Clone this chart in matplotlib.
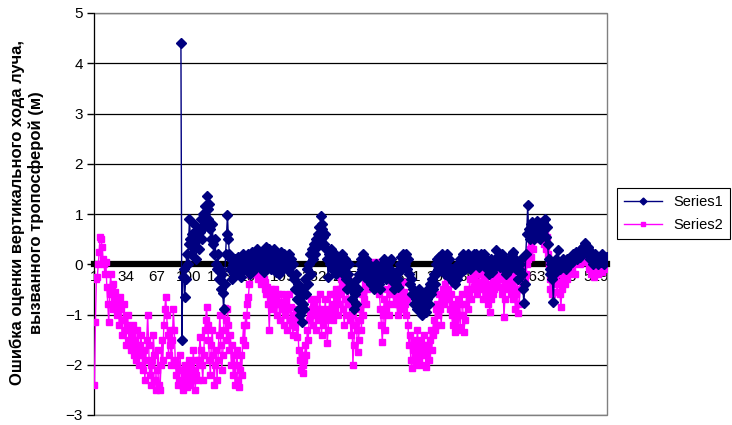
import matplotlib
matplotlib.use('Agg')
from matplotlib import pyplot as plt
from matplotlib.patches import Rectangle

plt.rcParams['font.family'] = ['Liberation Sans', 'DejaVu Sans']

# Series2: one value per measurement, 540 points
series2 = [
    -2.4, -1.15, -0.3, -0.25, 0.0, 0.25, 0.55, 0.5, 0.35, 0.1,
    0.0, -0.2, 0.05, -0.45, -0.8, -1.15, -0.6, -0.2, -0.5, -0.9,
    -0.4, -0.7, -0.55, -0.8, -1.0, -0.7, -1.2, -0.65, -0.9, -1.4,
    -1.1, -0.8, -1.3, -1.6, -1.2, -1.0, -1.5, -1.3, -1.7, -1.4,
    -1.6, -1.2, -1.8, -1.5, -1.9, -1.3, -1.7, -2.0, -1.6, -1.4,
    -1.8, -2.1, -1.7, -2.3, -1.9, -1.5, -1.0, -1.6, -2.2, -2.0,
    -2.4, -1.9, -1.4, -1.8, -2.3, -2.5, -2.1, -1.7, -2.4, -2.5,
    -2.0, -1.5, -1.9, -1.2, -0.9, -0.65, -1.0, -1.4, -1.8, -1.3,
    -1.6, -2.0, -1.5, -0.9, -1.3, -1.9, -2.2, -2.0, -2.4, -2.3,
    -1.8, -2.1, -2.4, -2.5, -2.2, -2.0, -2.3, -2.45, -2.1, -1.9,
    -2.2, -2.4, -2.0, -2.3, -1.7, -2.1, -2.5, -2.2, -1.9, -2.3,
    -1.9, -1.45, -1.7, -2.0, -2.3, -1.8, -1.3, -1.1, -0.85, -1.2,
    -1.5, -1.9, -2.2, -1.6, -1.3, -1.8, -2.4, -2.0, -1.7, -2.3,
    -1.9, -1.4, -1.0, -1.6, -2.1, -1.8, -1.3, -0.88, -1.1, -1.5,
    -0.9, -1.2, -1.7, -1.4, -2.0, -1.6, -2.2, -1.8, -2.4, -2.0,
    -1.7, -2.3, -2.45, -2.1, -1.8, -2.2, -1.5, -1.2, -1.6, -1.0,
    -1.2, -0.8, -0.65, -0.4, -0.2, 0.0, -0.1, 0.05, -0.2, 0.1,
    0.0, -0.1, -0.3, 0.05, -0.15, -0.4, -0.2, 0.0, -0.3, -0.5,
    -0.35, -0.6, -0.45, -0.8, -1.3, -0.7, -0.5, -0.9, -0.6, -0.8,
    -0.5, -0.7, -1.0, -0.6, -0.8, -1.1, -0.75, -0.6, -0.9, -1.2,
    -0.8, -1.0, -0.7, -1.3, -0.9, -0.6, -1.1, -0.85, -1.2, -1.4,
    -1.0, -1.25, -0.9, -1.45, -1.1, -1.7, -1.9, -2.1, -1.8, -2.0,
    -2.17, -1.9, -1.6, -1.8, -1.3, -1.5, -1.1, -1.0, -0.7, -0.9,
    -1.2, -0.8, -1.0, -1.3, -0.7, -0.9, -1.1, -0.6, -1.0, -1.4,
    -0.9, -1.2, -1.0, -0.7, -1.1, -1.57, -1.3, -0.9, -0.6, -1.0,
    -0.8, -1.1, -0.6, -0.9, -0.5, -0.7, -1.0, -0.8, -0.5, -0.3,
    -0.6, -0.4, -0.9, -1.2, -0.7, -1.0, -0.5, -0.3, -0.8, -1.1,
    -1.4, -1.0, -2.0, -1.6, -1.2, -0.8, -1.3, -1.75, -1.5, -1.1,
    -0.9, -1.3, -0.6, -1.0, -0.7, -0.4, -0.8, -0.5, -0.2, -0.4,
    -0.1, 0.0, -0.3, 0.05, -0.2, 0.0, -0.4, -0.1, 0.05, -0.3,
    -0.6, -0.9, -1.2, -1.55, -1.0, -0.7, -1.3, -0.9, -0.5, -0.8,
    -1.0, -0.6, -0.4, -0.25, -0.5, -0.8, -0.6, -0.3, -0.7, -1.0,
    -0.8, -0.5, -0.7, -0.9, -0.6, -0.35, -0.55, -0.8, -1.0, -0.7,
    -1.2, -1.6, -1.4, -1.9, -2.07, -1.7, -1.5, -1.8, -2.0, -1.6,
    -1.3, -1.7, -1.9, -1.5, -1.8, -2.0, -1.6, -1.4, -1.75, -2.05,
    -1.8, -1.6, -1.9, -1.5, -1.3, -1.7, -1.4, -1.1, -1.3, -0.9,
    -1.2, -0.8, -1.0, -0.6, -0.9, -1.2, -0.7, -0.5, -0.8, -0.4,
    -0.6, -0.25, -0.5, -0.7, -0.9, -0.6, -1.0, -1.2, -0.8, -1.35,
    -1.1, -0.9, -1.3, -0.7, -1.0, -1.25, -0.8, -0.6, -1.0, -1.35,
    -1.1, -0.8, -0.5, -0.9, -0.6, -0.3, -0.7, -0.5, -0.2, -0.45,
    -0.3, -0.1, -0.4, -0.6, -0.2, 0.0, -0.35, -0.5, -0.15, -0.7,
    0.05, -0.3, -0.6, -0.4, -0.8, -0.5, -0.95, -0.7, -0.4, -0.6,
    -0.3, -0.5, -0.2, -0.4, -0.1, -0.3, 0.0, -0.2, -0.45, -0.6,
    -0.3, -1.05, -0.7, -0.4, -0.2, -0.5, -0.1, -0.3, -0.6, -0.2,
    -0.4, -0.7, -0.5, -0.9, -0.6, -0.3, -0.97, -0.8, -0.5, -0.2,
    -0.4, -0.1, 0.0, -0.3, -0.2, 0.0, 0.1, 0.2, 0.3, 0.15,
    0.4, 0.55, 0.3, 0.6, 0.75, 0.5, 0.8, 0.65, 0.87, 0.6,
    0.7, 0.5, 0.8, 0.4, 0.65, 0.3, 0.55, 0.2, 0.0, -0.3,
    -0.5, -0.3, -0.6, -0.2, -0.4, -0.1, -0.35, -0.55, -0.2, -0.4,
    -0.6, -0.85, -0.5, -0.3, -0.2, -0.4, -0.1, -0.3, -0.15, 0.0,
    -0.2, -0.1, 0.05, -0.15, 0.1, 0.0, -0.2, 0.15, 0.05, 0.1,
    0.2, 0.0, 0.15, 0.25, 0.1, 0.3, 0.2, 0.05, 0.25, 0.3,
    0.1, -0.1, 0.0, -0.2, 0.05, -0.1, -0.25, 0.0, -0.15, -0.05,
    -0.2, 0.0, -0.1, 0.05, -0.15, -0.05, 0.0, -0.1, 0.05, -0.05,
]

# Series1 has no values for the first 91 points (empty cells)
series1_start = 92
series1 = [
    4.4, -1.5, -0.25, -0.1, -0.65, -0.3, 0.2, 0.0, 0.4,
    0.9, 0.5, 0.2, 0.6, 0.35, 0.8, 0.45, 0.1, 0.55, 0.7,
    0.3, 0.65, 0.9, 0.5, 1.0, 0.75, 1.15, 0.85, 1.35, 1.1,
    0.9, 1.2, 0.7, 0.5, 0.8, 0.4, 0.2, 0.5, 0.0, -0.1,
    0.2, -0.3, -0.1, -0.5, -0.2, -0.58, -0.9, -0.4, 0.2, 0.6,
    0.98, 0.5, 0.2, -0.1, 0.1, -0.3, 0.0, -0.2, 0.1, -0.1,
    0.0, 0.15, -0.15, 0.1, -0.25, 0.05, 0.2, -0.1, 0.0, 0.1,
    -0.1, 0.05, 0.2, 0.0, -0.2, 0.1, 0.25, 0.0, 0.15, -0.1,
    0.1, 0.3, 0.0, 0.2, -0.05, 0.1, 0.25, 0.05, -0.15, 0.1,
    0.2, 0.35, 0.0, 0.15, 0.3, 0.1, -0.1, 0.2, 0.05, 0.3,
    0.1, -0.15, 0.2, 0.0, -0.2, 0.1, 0.25, 0.0, -0.1, 0.15,
    0.2, 0.0, 0.15, -0.1, 0.05, 0.2, -0.05, 0.1, -0.2, 0.0,
    -0.3, -0.5, -0.2, -0.7, -0.4, -0.9, -1.0, -0.6, -1.15, -0.8,
    -0.5, -0.9, -0.3, -0.6, -0.1, -0.4, 0.0, 0.2, -0.2, 0.3,
    0.1, 0.4, 0.2, 0.5, 0.35, 0.6, 0.75, 0.5, 0.97, 0.7,
    0.8, 0.55, 0.4, 0.6, 0.3, 0.1, -0.25, 0.2, 0.0, 0.3,
    -0.1, 0.15, 0.0, 0.2, -0.2, 0.1, 0.0, -0.1, 0.15, -0.05,
    0.0, 0.2, -0.2, -0.1, 0.1, -0.3, -0.5, -0.2, 0.0, -0.35,
    -0.5, -0.7, -0.4, -0.9, -0.6, -0.8, -0.3, -0.5, -0.2, 0.0,
    -0.2, 0.1, -0.1, 0.2, 0.0, -0.25, 0.1, -0.3, -0.1, 0.0,
    -0.2, -0.4, -0.1, -0.3, -0.5, -0.2, 0.0, -0.3, -0.1, -0.4,
    -0.2, -0.5, -0.3, 0.0, -0.2, 0.1, -0.1, -0.3, 0.0, -0.2,
    0.05, -0.1, 0.1, -0.2, -0.35, -0.5, -0.3, -0.4, -0.2, -0.45,
    -0.3, -0.1, 0.0, 0.15, -0.1, 0.2, 0.1, 0.0, 0.2, -0.1,
    0.1, -0.2, -0.4, -0.3, -0.6, -0.5, -0.8, -0.55, -0.7, -0.9,
    -0.6, -0.8, -0.5, -0.9, -0.7, -1.0, -0.75, -0.6, -0.85, -0.95,
    -0.7, -0.5, -0.8, -0.4, -0.6, -0.3, -0.5, -0.2, -0.4, 0.0,
    -0.2, 0.1, -0.1, 0.15, -0.05, 0.0, 0.2, -0.1, 0.05, -0.2,
    0.0, 0.2, -0.1, 0.1, -0.2, -0.3, -0.1, -0.35, -0.2, -0.4,
    -0.25, -0.1, -0.3, 0.0, -0.2, 0.1, -0.15, 0.05, 0.2, 0.0,
    -0.1, 0.15, 0.0, 0.2, 0.05, -0.1, 0.1, 0.0, 0.15, 0.2,
    0.05, 0.1, 0.2, 0.0, 0.15, -0.05, 0.1, 0.2, 0.0, 0.1,
    0.2, 0.0, 0.1, -0.1, 0.05, -0.2, 0.0, 0.1, -0.15, 0.0,
    -0.1, 0.05, 0.1, 0.28, 0.1, 0.0, 0.15, -0.05, 0.1, 0.2,
    0.0, -0.1, 0.1, -0.2, 0.05, 0.0, 0.1, -0.1, 0.15, 0.0,
    0.2, 0.24, 0.0, 0.1, -0.1, 0.05, -0.3, -0.1, 0.0, 0.1,
    -0.2, -0.5, -0.78, -0.4, 0.2, 0.6, 1.17, 0.7, 0.5, 0.8,
    0.6, 0.85, 0.7, 0.5, 0.8, 0.65, 0.87, 0.6, 0.75, 0.5,
    0.8, 0.6, 0.85, 0.7, 0.9, 0.55, 0.75, 0.4, 0.1, -0.2,
    -0.1, 0.0, -0.3, -0.75, -0.2, 0.0, 0.1, -0.1, 0.28, 0.0,
    -0.1, 0.05, -0.05, 0.1, 0.0, 0.05, -0.1, 0.1, 0.0, 0.05,
    0.1, 0.0, 0.15, 0.05, 0.2, 0.1, 0.15, 0.25, 0.1, 0.2,
    0.25, 0.15, 0.3, 0.2, 0.35, 0.25, 0.42, 0.3, 0.2, 0.35,
    0.3, 0.2, 0.1, 0.25, 0.15, 0.0, 0.1, 0.2, 0.05, 0.1,
    0.0, 0.1, 0.15, 0.05, 0.2, 0.1, 0.0, 0.15, 0.1, 0.15,
]

tick_step = 33
y_label = 'Ошибка оценки вертикального хода луча,\nвызванного тропосферой (м)'

n = len(series2)
x2 = list(range(1, n + 1))
x1 = list(range(series1_start, series1_start + len(series1)))
ticks = list(range(1, n + 1, tick_step))

fig = plt.figure(figsize=(7.32, 4.25), dpi=100)
ax = fig.add_axes([94 / 732, 1 - 415 / 425, 513 / 732, 402 / 425])

ax.plot(x1, series1, color='#000080', lw=1, marker='D', ms=5, label='Series1', zorder=4)
ax.plot(x2, series2, color='#FF00FF', lw=1, marker='s', ms=5, label='Series2', zorder=3)

ax.set_xlim(0.5, n + 0.5)
ax.set_ylim(-3, 5)
ax.set_yticks(range(-3, 6))
ax.yaxis.grid(True, color='black', lw=0.9)
ax.set_axisbelow(True)

# category axis crosses at zero like in excel
ax.spines['bottom'].set_position(('data', 0))
ax.spines['bottom'].set_linewidth(4.5)
ax.spines['bottom'].set_color('black')
ax.spines['bottom'].set_zorder(2.6)
ax.spines['top'].set_visible(False)
ax.spines['right'].set_visible(False)
ax.spines['left'].set_color('black')
ax.add_patch(Rectangle((0, 0), 1, 1, transform=ax.transAxes, fill=False,
                       edgecolor='#808080', lw=1, clip_on=False, zorder=1))

ax.set_xticks(ticks)
ax.set_xticklabels([str(t) for t in ticks])
ax.tick_params(axis='x', length=0, pad=4, labelsize=11)
ax.tick_params(axis='y', length=5, width=1, pad=3, labelsize=11, direction='out')

fig.text(27 / 732, 0.5, y_label, rotation=90, ha='center', va='center',
         multialignment='center', fontsize=12, fontweight='bold', linespacing=1.25)

leg = fig.legend(loc='center', bbox_to_anchor=(622 / 732, 1 - 240 / 425, 103 / 732, 53 / 425),
                 fontsize=10.5, fancybox=False, edgecolor='black', framealpha=1,
                 handlelength=2.6, borderpad=0.5, labelspacing=0.6, markerscale=0.7)
leg.get_frame().set_linewidth(0.8)

fig.savefig('out.png', dpi=100)
